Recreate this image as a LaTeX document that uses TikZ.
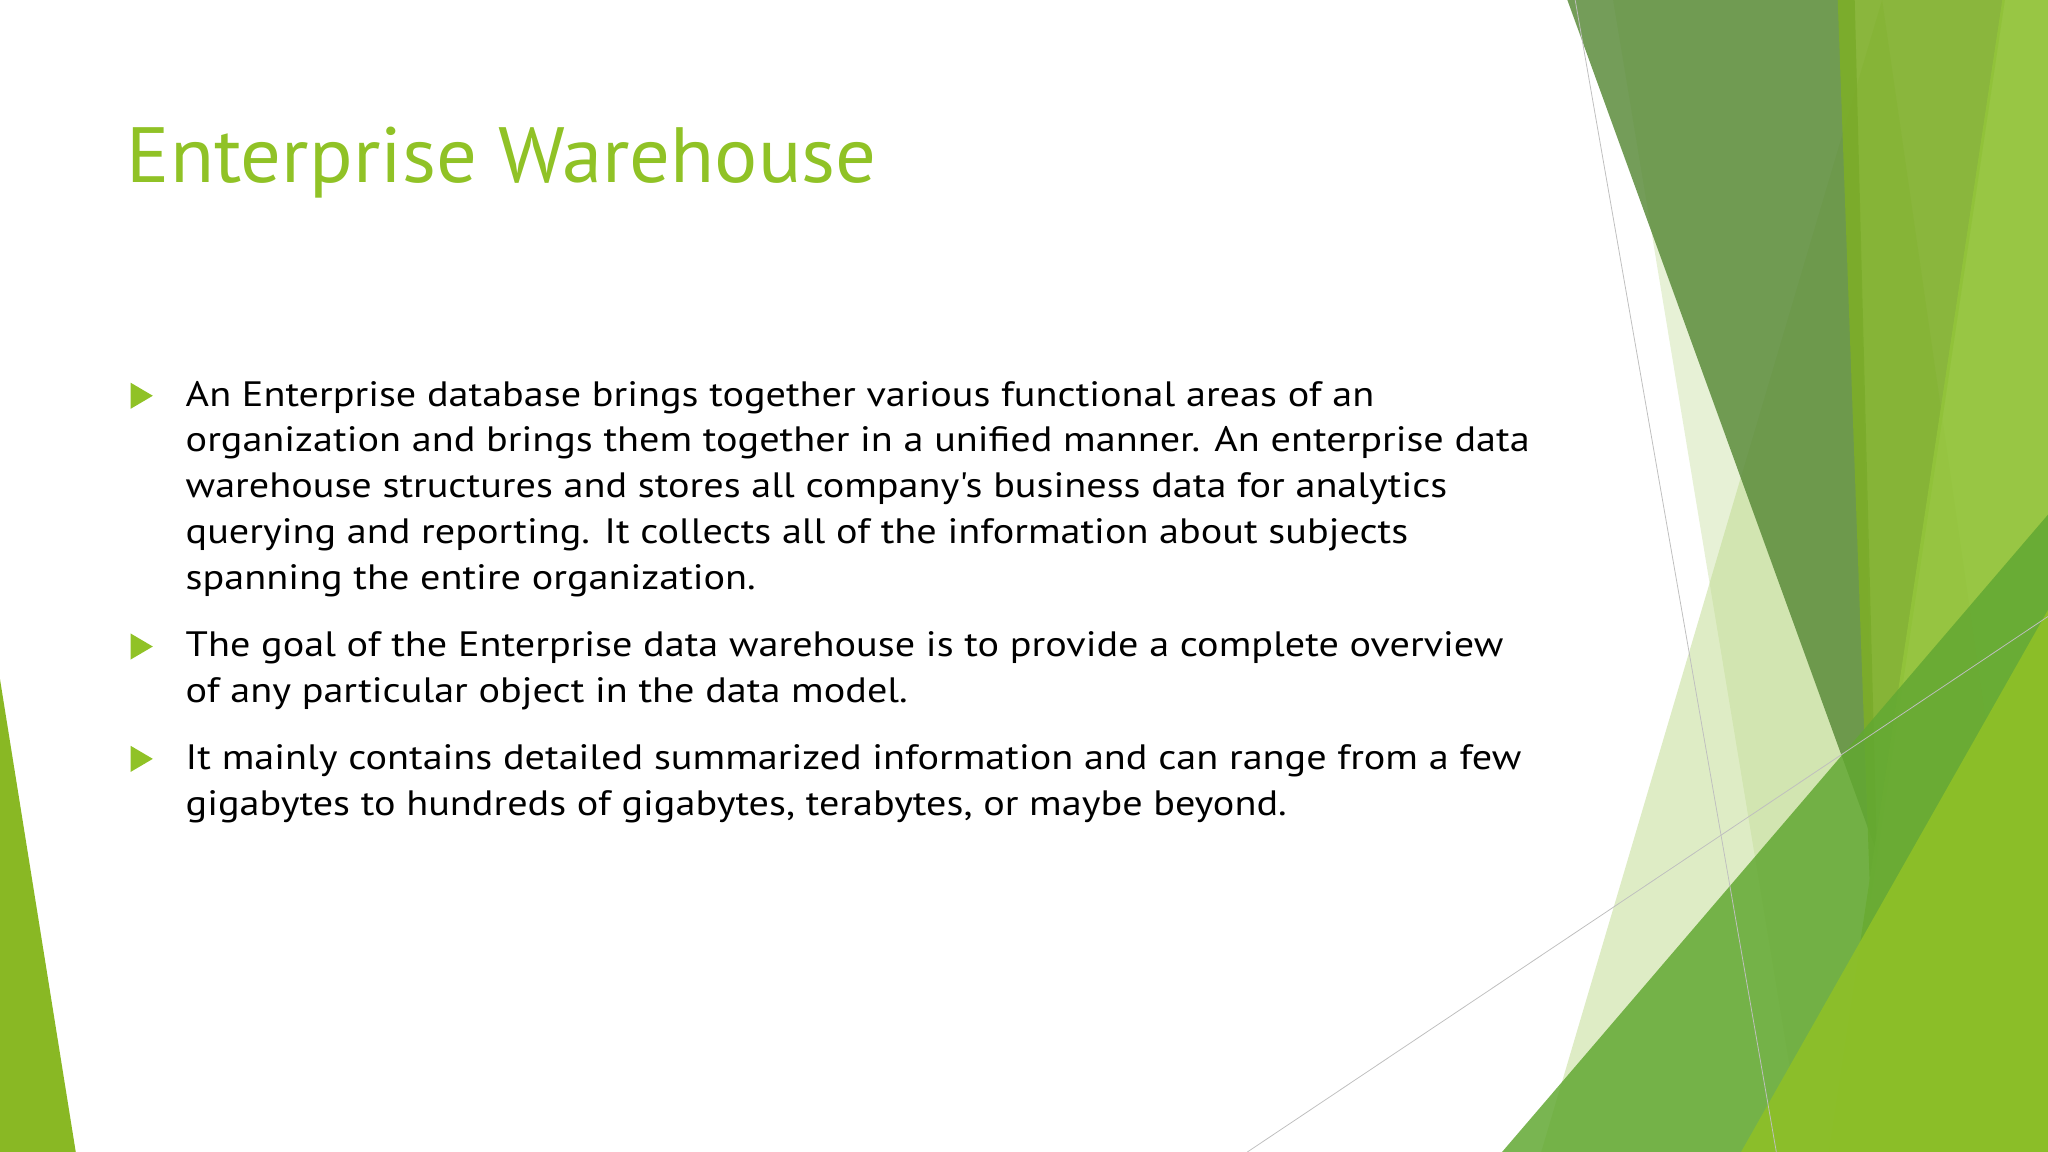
\documentclass[tikz,border=0pt]{standalone}
\usepackage{fontspec}
\setmainfont{PT Sans}
\newfontfamily\bodyfont[FakeStretch=1.14]{PT Sans}
\newfontfamily\titlefont[FakeStretch=1.03]{PT Sans}
\definecolor{tgreen}{HTML}{90C226}
\definecolor{cpale}{HTML}{C9E0A4}
\definecolor{clight}{RGB}{190,218,140}
\definecolor{cdark}{RGB}{92,140,60}
\definecolor{cstripe}{RGB}{125,174,40}
\definecolor{cright}{RGB}{146,195,58}
\definecolor{cbot}{RGB}{98,168,50}
\definecolor{cbot2}{RGB}{142,192,40}
\tikzset{body/.style={anchor=base west,inner sep=0pt,font=\bodyfont\fontsize{27}{35}\selectfont},
 bul/.style={fill=tgreen,draw=none},
 thin/.style={draw=black!25,line width=0.6pt}}
\begin{document}
\begin{tikzpicture}[x=1pt,y=-1pt]
\useasboundingbox (0,0) rectangle (1568,882);
\fill[tgreen!95!black] (0,520) -- (58,882) -- (0,882) -- cycle;
\fill[cpale,opacity=0.45] (1235,0) -- (1420,0) -- (1440,882) -- (1381,882) -- cycle;
\fill[clight,opacity=0.5] (1441,0) -- (1180,882) -- (1568,882) -- cycle;
\fill[cdark,opacity=0.85] (1200,0) -- (1420,0) -- (1437,653) -- cycle;
\fill[cstripe,opacity=0.9] (1407,0) -- (1535,0) -- (1432,690) -- cycle;
\fill[cright,opacity=0.95] (1533,0) -- (1568,0) -- (1568,882) -- (1400,882) -- cycle;
\fill[cbot,opacity=0.85] (1150,882) -- (1568,394) -- (1568,882) -- cycle;
\fill[cbot2,opacity=0.92] (1333,882) -- (1568,467) -- (1568,882) -- cycle;
\coordinate (l1a) at (1206,0); \coordinate (l1b) at (1360,882);
\coordinate (l2a) at (955,882); \coordinate (l2b) at (1568,472);
\draw[thin] (l1a) -- (l1b);
\draw[thin] (l2a) -- (l2b);
\node[anchor=base west,inner sep=0pt,text=tgreen,font=\titlefont\fontsize{60}{70}\selectfont] (title) at (97,140) {Enterprise Warehouse};
\fill[bul] (100,293) -- (117,303) -- (100,313) -- cycle;
\fill[bul] (100,485) -- (117,495) -- (100,505) -- cycle;
\fill[bul] (100,571) -- (117,581) -- (100,591) -- cycle;
\node[body] (b1a) at (142,311) {An Enterprise database brings together various functional areas of an};
\node[body] (b1b) at (142,346) {organization and brings them together in a unified manner. An enterprise data};
\node[body] (b1c) at (142,381) {warehouse structures and stores all company's business data for analytics};
\node[body] (b1d) at (142,416) {querying and reporting. It collects all of the information about subjects};
\node[body] (b1e) at (142,451) {spanning the entire organization.};
\node[body] (b2a) at (142,503) {The goal of the Enterprise data warehouse is to provide a complete overview};
\node[body] (b2b) at (142,538) {of any particular object in the data model.};
\node[body] (b3a) at (142,589) {It mainly contains detailed summarized information and can range from a few};
\node[body] (b3b) at (142,624) {gigabytes to hundreds of gigabytes, terabytes, or maybe beyond.};
\end{tikzpicture}
\end{document}
